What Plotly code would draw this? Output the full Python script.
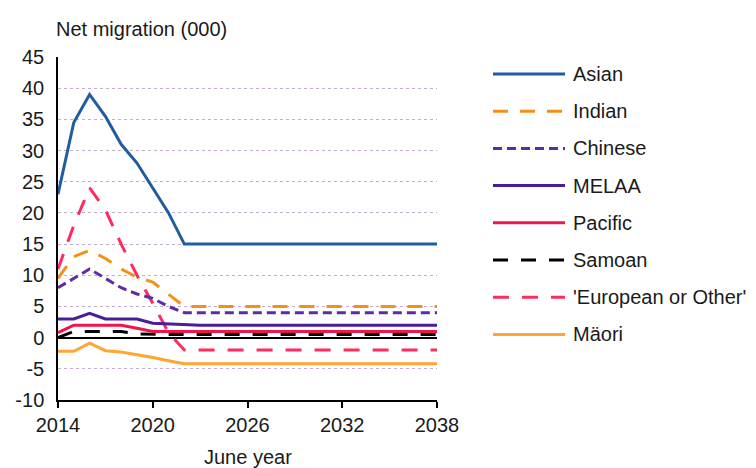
import plotly.graph_objects as go

# June years covered by the projection
years = list(range(2014, 2039))

# Net migration by ethnic group (thousands)
asian    = [23, 34.5, 39, 35.5, 31, 28, 24, 20, 15] + [15] * 16
indian   = [9.5, 13, 14, 12.7, 11, 9.7, 8.9, 7, 5] + [5] * 16
chinese  = [8, 9.5, 11, 9.5, 8, 7, 6.3, 5, 4] + [4] * 16
melaa    = [3, 3, 3.9, 3, 3, 3, 2.3, 2.2, 2] + [2] * 16
pacific  = [0.8, 2, 2, 2, 2, 1.5, 1, 1, 1] + [1] * 16
samoan   = [0, 1, 1, 1, 1, 0.6, 0.5, 0.5, 0.5] + [0.5] * 16
european = [11, 18, 24, 20.5, 15, 10, 5.5, 0.8, -2] + [-2] * 16
maori    = [-2.2, -2.2, -0.9, -2.1, -2.3, -2.7, -3.2, -3.7, -4.2] + [-4.2] * 16

names  = ["Asian", "Indian", "Chinese", "MELAA", "Pacific", "Samoan",
          "'European or Other'", "Mäori"]
series = [asian, indian, chinese, melaa, pacific, samoan, european, maori]
colors = ["#1F5CA0", "#F39019", "#5B2CA3", "#4A1E98", "#F2124C", "#000000",
          "#FF2B5E", "#FFA533"]
dashes = ["solid", "15px,12px", "9px,5px", "solid", "solid", "15px,13px",
          "16px,13px", "solid"]

y_ticks = list(range(-10, 50, 5))
y_labels = [str(v) for v in y_ticks]          # plain hyphen for negatives
x_ticks = [2014, 2020, 2026, 2032, 2038]

FONT = "Liberation Sans, Arial, sans-serif"
W, H = 756, 468
ML, MR, MT, MB = 58, 319, 57, 68
PW, PH = W - ML - MR, H - MT - MB

fig = go.Figure()

# draw bottom-up so the early legend entries sit on top
for name, ys, col, dash in reversed(list(zip(names, series, colors, dashes))):
    fig.add_trace(go.Scatter(
        x=years, y=ys, name=name, mode="lines",
        line=dict(color=col, width=3, dash=dash),
        showlegend=False, hoverinfo="x+y+name",
    ))

# Legend on the right: line sample and label per series
leg_x0, leg_x1, leg_tx = 493, 565, 571
leg_y0, leg_step = 74, 37.2
for i, (name, col, dash) in enumerate(zip(names, colors, dashes)):
    py = leg_y0 + i * leg_step
    yp = (H - MB - py) / PH
    fig.add_shape(type="line", xref="paper", yref="paper",
                  x0=(leg_x0 - ML) / PW, x1=(leg_x1 - ML) / PW, y0=yp, y1=yp,
                  line=dict(color=col, width=3, dash=dash))
    fig.add_annotation(xref="paper", yref="paper", x=(leg_tx - ML) / PW, y=yp,
                       text=name, showarrow=False, xanchor="left",
                       yanchor="middle", font=dict(size=20, color="#1a1a1a"))

# Axis captions
fig.add_annotation(xref="paper", yref="paper", x=0, y=1, xshift=-4, yshift=15,
                   text="Net migration (000)", showarrow=False,
                   xanchor="left", yanchor="bottom",
                   font=dict(size=20, color="#1a1a1a"))
fig.add_annotation(xref="paper", yref="paper", x=0.5, y=0, yshift=-57,
                   text="June year", showarrow=False,
                   xanchor="center", yanchor="middle",
                   font=dict(size=20, color="#1a1a1a"))

fig.update_layout(
    width=W, height=H,
    margin=dict(l=ML, r=MR, t=MT, b=MB),
    paper_bgcolor="white", plot_bgcolor="white",
    font=dict(family=FONT, size=20, color="#1a1a1a"),
    showlegend=False,
)
fig.update_xaxes(
    range=[2014, 2038], tickvals=x_ticks, showgrid=False,
    showline=True, linecolor="#000000", linewidth=1.5,
    ticks="outside", ticklen=6, tickcolor="#000000", tickwidth=1.5,
    ticklabelstandoff=0, automargin=False,
    zeroline=False,
)
fig.update_yaxes(
    range=[-10, 45], tickvals=y_ticks, ticktext=y_labels, showgrid=True,
    gridcolor="#C3AECF", griddash="dot", gridwidth=1,
    showline=True, linecolor="#000000", linewidth=1.5,
    ticks="", ticklabelstandoff=8, automargin=False,
    zeroline=True, zerolinecolor="#000000", zerolinewidth=1.5,
)

fig.write_html("out.html")
